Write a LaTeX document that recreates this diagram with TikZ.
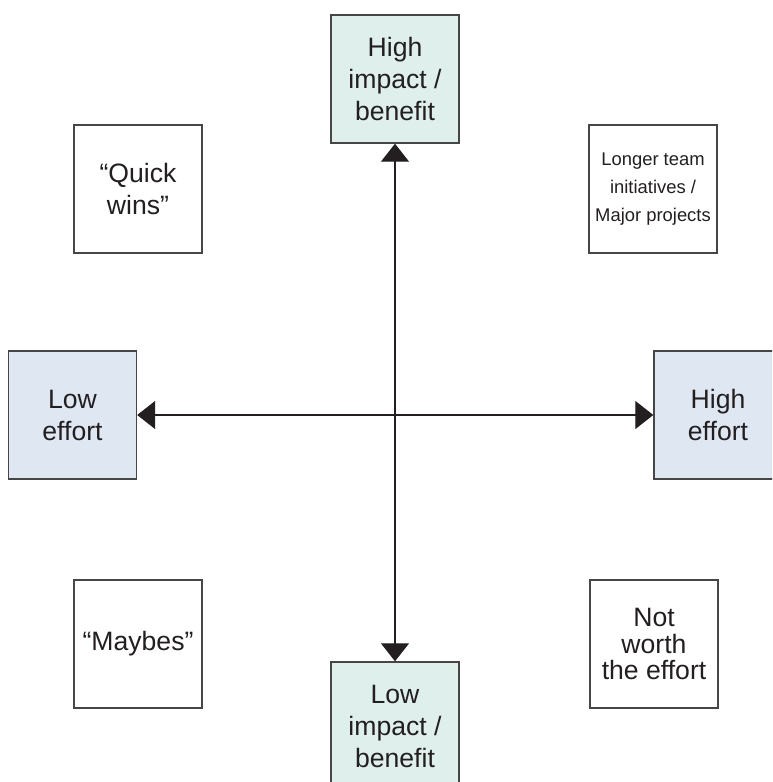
\documentclass[tikz,border=0pt]{standalone}
\usepackage{fontspec}
\setmainfont{Liberation Sans}
\usetikzlibrary{arrows.meta}
\definecolor{impactfill}{RGB}{223,240,236}
\definecolor{effortfill}{RGB}{223,231,243}
\definecolor{boxline}{RGB}{70,70,70}
\definecolor{inktext}{RGB}{35,31,32}
\tikzset{
  cell/.style={draw=boxline, line width=0.7pt, fill=white, text=inktext,
    minimum width=64pt, minimum height=64pt, inner sep=0pt, align=center,
    font=\fontsize{13.3}{16}\selectfont},
  impact/.style={cell, fill=impactfill},
  effort/.style={cell, fill=effortfill},
  axis/.style={line width=0.6pt, draw=inktext,
    {Triangle[length=9pt,width=14pt]}-{Triangle[length=9pt,width=14pt]}}
}
\begin{document}
\begin{tikzpicture}[x=0.5pt, y=-0.5pt]
      \useasboundingbox (0,0) rectangle (772,782);
      \clip (0,0) rectangle (772,782);
      \path
        (395,79) node[impact] (highimpact){High\\impact /\\benefit}
        (395,726) node[impact] (lowimpact){Low\\impact /\\benefit}
        (72.5,415) node[effort] (loweffort){Low\\effort}
        (718,415) node[effort] (higheffort){High\\effort}
        (138,189) node[cell] (quickwins){``Quick\\wins''}
        (653,189) node[cell, font=\fontsize{9.2}{14}\selectfont] (majorproj){Longer team\\initiatives /\\Major projects}
        (138,644) node[cell] (maybes){``Maybes''}
        (654,644) node[cell, font=\fontsize{13.3}{13.3}\selectfont] (notworth){Not\\worth\\the effort};
      \begin{scope}[axis]
        \draw (loweffort) to (higheffort);
        \draw (lowimpact) to (highimpact);
      \end{scope}
    \end{tikzpicture}
\end{document}
